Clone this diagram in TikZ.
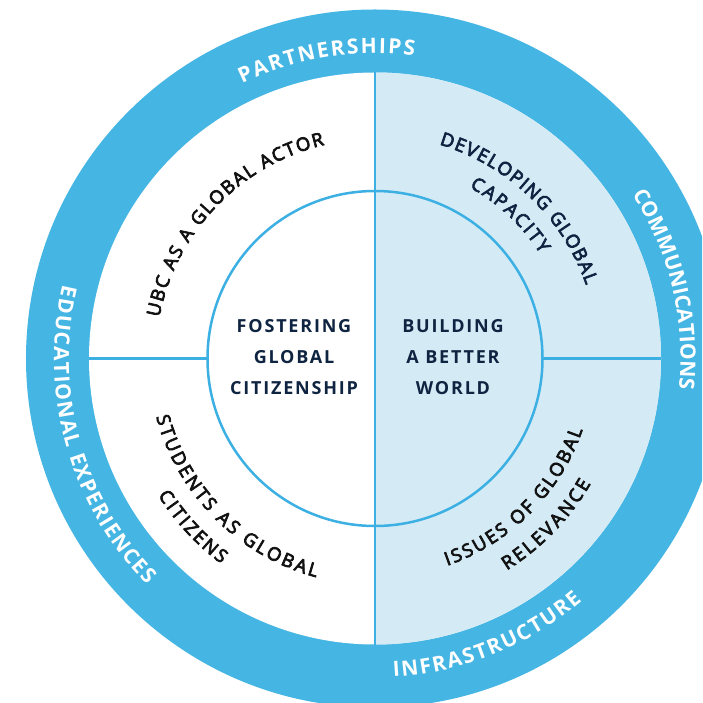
\documentclass[tikz,border=0pt]{standalone}
\usepackage{fontspec}
\setmainfont{Open Sans}
\newfontfamily\centerfont{Open Sans}[LetterSpace=10]
\newfontfamily\midfont{Open Sans}[FakeBold=4]
\usetikzlibrary{decorations.text}
\definecolor{ringblue}{HTML}{45B5E3}
\definecolor{lightfill}{HTML}{D4EBF6}
\definecolor{lineblue}{HTML}{3DB0E3}
\definecolor{navy}{HTML}{0F2441}
\definecolor{inkblack}{HTML}{121212}
% #1 radius, #2 start, #3 end, #4 font, #5 colour, #6 text
\newcommand\arctext[6]{%
  \path[font=#4, decorate, decoration={text along path, text align=fit to path,
    text={|#4\color{#5}|#6}}] (#2:#1) arc[start angle=#2, end angle=#3, radius=#1];}
\newcommand\outerfmt{\fontsize{21}{24}\selectfont\bfseries}
\newcommand\innerfmt{\midfont\fontsize{18.5}{21}\selectfont}
\tikzset{
  divider/.style={draw=lineblue, line width=2.5pt},
  centertext/.style={text=navy, align=center,
    font=\centerfont\fontsize{18}{31}\selectfont\bfseries}
}
\begin{document}
\begin{tikzpicture}[x=1pt,y=1pt]
\useasboundingbox (-375,-344.5) rectangle (327,358.5);
\clip (-375,-344.5) rectangle (327,358.5);
% rings
\fill[ringblue] (0,0) circle (349);
\fill[white] (0,0) circle (286);
\fill[lightfill] (0,-286) arc[start angle=-90, end angle=90, radius=286] -- cycle;
% dividers
\coordinate (top) at (0,286);
\coordinate (bot) at (0,-286);
\coordinate (lo) at (-286,0);
\coordinate (li) at (-167.5,0);
\coordinate (ri) at (167.5,0);
\coordinate (ro) at (286,0);
\draw[divider] (top) -- (bot);
\draw[divider] (lo) -- (li);
\draw[divider] (ri) -- (ro);
\draw[divider] (0,0) circle (167.5);
% outer ring labels
\arctext{305.5}{115.8}{82.6}{\outerfmt}{white}{PARTNERSHIPS}
\arctext{305.5}{32.5}{-5.8}{\outerfmt}{white}{COMMUNICATIONS}
\arctext{321}{166.7}{224.9}{\outerfmt}{white}{EDUCATIONAL EXPERIENCES}
\arctext{319}{-86.7}{-49.5}{\outerfmt}{white}{INFRASTRUCTURE}
% middle ring labels
\arctext{219.5}{169.2}{103.3}{\innerfmt}{inkblack}{UBC AS A GLOBAL ACTOR}
\arctext{223.5}{73.3}{19.2}{\innerfmt}{navy}{DEVELOPING GLOBAL}
\arctext{195.5}{61.1}{32.3}{\innerfmt}{navy}{CAPACITY}
\arctext{226.5}{194.9}{254.9}{\innerfmt}{inkblack}{STUDENTS AS GLOBAL}
\arctext{256.5}{212.2}{233.2}{\innerfmt}{inkblack}{CITIZENS}
\arctext{219.5}{-70.8}{-19.0}{\innerfmt}{inkblack}{ISSUES OF GLOBAL}
\arctext{249.5}{-58.1}{-30.1}{\innerfmt}{inkblack}{RELEVANCE}
% centre labels
\node[centertext] (fgc) at (-81,1) {FOSTERING\\GLOBAL\\CITIZENSHIP};
\node[centertext] (babw) at (78,1) {BUILDING\\A BETTER\\WORLD};
\end{tikzpicture}
\end{document}
